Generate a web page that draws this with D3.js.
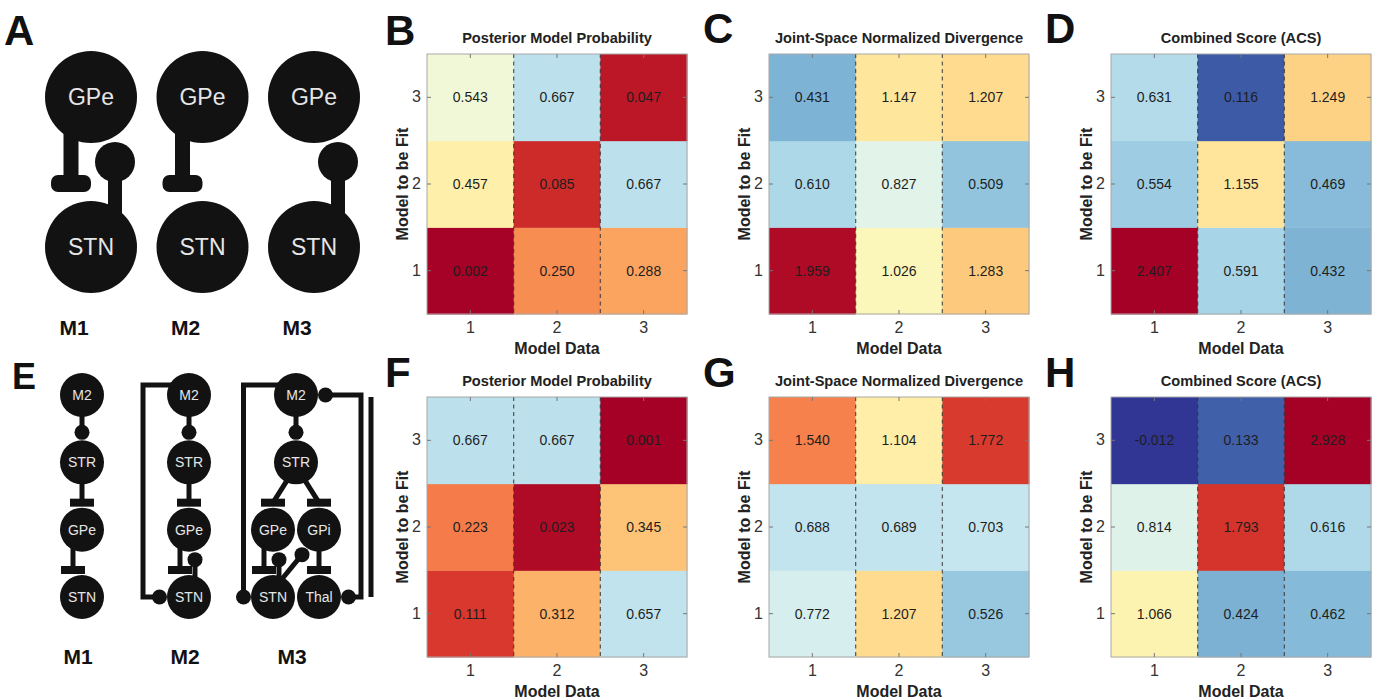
<!DOCTYPE html>
<html><head><meta charset="utf-8">
<script src="https://cdn.jsdelivr.net/npm/d3@7"></script>
<style>
body{margin:0;background:#fff;}
svg{display:block;font-family:"Liberation Sans",Arial,Helvetica,sans-serif;}
</style></head><body>
<svg id="fig" width="1378" height="700"></svg>
<script>
// ---------------- DATA ----------------
const modelIds = ["1","2","3"];
const tickLabels = ["1","2","3"];
const titleProb = "Posterior Model Probability";
const titleDiv = "Joint-Space Normalized Divergence";
const titleAcs = "Combined Score (ACS)";
const xAxisTitle = "Model Data";
const yAxisTitle = "Model to be Fit";
// rows = Model to be Fit 1..3, columns = Model Data 1..3
const probGPeSTN = [[0.002,0.250,0.288],[0.457,0.085,0.667],[0.543,0.667,0.047]];
const divGPeSTN  = [[1.959,1.026,1.283],[0.610,0.827,0.509],[0.431,1.147,1.207]];
const acsGPeSTN  = [[2.407,0.591,0.432],[0.554,1.155,0.469],[0.631,0.116,1.249]];
const probBG = [[0.111,0.312,0.657],[0.223,0.023,0.345],[0.667,0.667,0.001]];
const divBG  = [[0.772,1.207,0.526],[0.688,0.689,0.703],[1.540,1.104,1.772]];
const acsBG  = [[1.066,0.424,0.462],[0.814,1.793,0.616],[-0.012,0.133,2.928]];

// circuit diagrams
const circuitModels = ["M1","M2","M3"];
const gpeStnNodes = ["GPe","STN"];
const gpeStnEdges = [
  {model:"M1",from:"GPe",to:"STN",kind:"inh"},
  {model:"M1",from:"STN",to:"GPe",kind:"exc"},
  {model:"M2",from:"GPe",to:"STN",kind:"inh"},
  {model:"M3",from:"STN",to:"GPe",kind:"exc"}
];
const bgNodes = [
  {model:"M1",name:"M2",level:0,lane:0},{model:"M1",name:"STR",level:1,lane:0},
  {model:"M1",name:"GPe",level:2,lane:0},{model:"M1",name:"STN",level:3,lane:0},
  {model:"M2",name:"M2",level:0,lane:0},{model:"M2",name:"STR",level:1,lane:0},
  {model:"M2",name:"GPe",level:2,lane:0},{model:"M2",name:"STN",level:3,lane:0},
  {model:"M3",name:"M2",level:0,lane:0},{model:"M3",name:"STR",level:1,lane:0},
  {model:"M3",name:"GPe",level:2,lane:-1},{model:"M3",name:"GPi",level:2,lane:1},
  {model:"M3",name:"STN",level:3,lane:-1},{model:"M3",name:"Thal",level:3,lane:1}
];
const bgEdges = [
  {model:"M1",from:"M2",to:"STR",kind:"exc"},{model:"M1",from:"STR",to:"GPe",kind:"inh"},
  {model:"M1",from:"GPe",to:"STN",kind:"inh"},
  {model:"M2",from:"M2",to:"STR",kind:"exc"},{model:"M2",from:"STR",to:"GPe",kind:"inh"},
  {model:"M2",from:"GPe",to:"STN",kind:"inh"},{model:"M2",from:"STN",to:"GPe",kind:"exc"},
  {model:"M2",from:"M2",to:"STN",kind:"loop"},
  {model:"M3",from:"M2",to:"STR",kind:"exc"},{model:"M3",from:"STR",to:"GPe",kind:"inh"},
  {model:"M3",from:"STR",to:"GPi",kind:"inh"},{model:"M3",from:"GPe",to:"STN",kind:"inh"},
  {model:"M3",from:"GPi",to:"Thal",kind:"inh"},{model:"M3",from:"STN",to:"GPe",kind:"exc"},
  {model:"M3",from:"STN",to:"GPi",kind:"exc"},{model:"M3",from:"M2",to:"STN",kind:"loop"},
  {model:"M3",from:"Thal",to:"M2",kind:"loop"}
];

const panels = [
  {label:"B",title:titleProb,values:probGPeSTN,kind:"prob",col:0,row:0},
  {label:"C",title:titleDiv,values:divGPeSTN,kind:"div",col:1,row:0},
  {label:"D",title:titleAcs,values:acsGPeSTN,kind:"div",col:2,row:0},
  {label:"F",title:titleProb,values:probBG,kind:"prob",col:0,row:1},
  {label:"G",title:titleDiv,values:divBG,kind:"div",col:1,row:1},
  {label:"H",title:titleAcs,values:acsBG,kind:"div",col:2,row:1}
];

// ---------------- LAYOUT ----------------
const svg = d3.select("#fig");
const INK = "#121212";
const NODE_TXT = "#e6e6e6";
const gridLeft = [427, 769, 1111];
const gridTop = [54, 397];
const S = 260;

const probColor = d3.scaleSequential(d3.interpolateRdYlBu).domain([0,1]).clamp(true);
const divColor = d3.scaleSequential(d3.interpolateRdYlBu).domain([2,0]).clamp(true);

panels.forEach(p => {
  const g = svg.append("g").attr("transform", `translate(${gridLeft[p.col]},${gridTop[p.row]})`);
  const x = d3.scaleBand().domain(modelIds).range([0,S]);
  const y = d3.scaleBand().domain(modelIds.slice().reverse()).range([0,S]);
  const color = p.kind === "prob" ? probColor : divColor;
  const cells = [];
  p.values.forEach((row,i) => row.forEach((v,j) => cells.push({fit:modelIds[i], data:modelIds[j], v})));
  g.selectAll("rect.cell").data(cells).join("rect").attr("class","cell")
    .attr("x", d => x(d.data)).attr("y", d => y(d.fit))
    .attr("width", x.bandwidth()+0.5).attr("height", y.bandwidth()+0.5)
    .attr("fill", d => color(d.v));
  g.selectAll("text.val").data(cells).join("text").attr("class","val")
    .attr("x", d => x(d.data) + x.bandwidth()/2)
    .attr("y", d => y(d.fit) + y.bandwidth()/2)
    .attr("dy","0.36em").attr("text-anchor","middle")
    .attr("font-size",14).attr("fill","#1e1e1e")
    .text(d => d.v.toFixed(3));
  modelIds.slice(1).forEach(m => {
    g.append("line").attr("x1", x(m)).attr("x2", x(m)).attr("y1",0).attr("y2",S)
      .attr("stroke","#333").attr("stroke-width",1.2).attr("stroke-dasharray","4,3.5").attr("opacity",0.8);
  });
  g.append("rect").attr("width",S).attr("height",S).attr("fill","none").attr("stroke","#a8a8a8").attr("stroke-width",1);
  const fmt = d => tickLabels[modelIds.indexOf(d)];
  const axes = [
    g.append("g").attr("transform",`translate(0,${S})`).call(d3.axisBottom(x).tickSizeInner(-4).tickSizeOuter(0).tickPadding(8).tickFormat(fmt)),
    g.append("g").call(d3.axisTop(x).tickSizeInner(-4).tickSizeOuter(0).tickFormat("")),
    g.append("g").call(d3.axisLeft(y).tickSizeInner(-4).tickSizeOuter(0).tickPadding(6).tickFormat(fmt)),
    g.append("g").attr("transform",`translate(${S},0)`).call(d3.axisRight(y).tickSizeInner(-4).tickSizeOuter(0).tickFormat(""))
  ];
  axes.forEach(a => {
    a.attr("font-size",16).attr("font-family",'"Liberation Sans",Arial,sans-serif');
    a.select(".domain").remove();
    a.selectAll(".tick line").attr("stroke","#777");
    a.selectAll(".tick text").attr("fill","#333");
  });
  g.append("text").attr("x",S/2).attr("y",-11).attr("text-anchor","middle")
    .attr("font-size",14.6).attr("font-weight","bold").attr("fill","#222").text(p.title);
  g.append("text").attr("x",S/2).attr("y",S+40).attr("text-anchor","middle")
    .attr("font-size",16).attr("font-weight","bold").attr("fill","#222").text(xAxisTitle);
  g.append("text").attr("transform",`translate(-19,${S/2}) rotate(-90)`).attr("text-anchor","middle")
    .attr("font-size",16).attr("font-weight","bold").attr("fill","#222").text(yAxisTitle);
});

// ---------------- PANEL LETTERS ----------------
const letters = [
  {t:"A",x:4,y:45,s:42},{t:"B",x:385,y:45,s:42},{t:"C",x:703,y:43,s:42},{t:"D",x:1045,y:43,s:42},
  {t:"E",x:12,y:389,s:36},{t:"F",x:385,y:387,s:42},{t:"G",x:703,y:387,s:42},{t:"H",x:1045,y:387,s:42}
];
svg.selectAll("text.letter").data(letters).join("text").attr("class","letter")
  .attr("x",d=>d.x).attr("y",d=>d.y).attr("font-size",d=>d.s).attr("font-weight","bold").attr("fill","#111")
  .text(d=>d.t);

// ---------------- PANEL A ----------------
const gA = svg.append("g");
const aX = d3.scalePoint().domain(circuitModels).range([91, 314]);
const aY = d3.scalePoint().domain(gpeStnNodes).range([97, 247]);
const RA = 46;
gpeStnEdges.forEach(e => {
  const cx = aX(e.model), sy = aY(e.from), ty = aY(e.to);
  if (e.kind === "inh") {
    const sx = cx - 20;
    gA.append("rect").attr("x", sx-7.5).attr("y", sy+30).attr("width",15).attr("height", (ty-RA-22)-(sy+30)).attr("fill",INK);
    gA.append("rect").attr("x", sx-20).attr("y", ty-RA-26).attr("width",40).attr("height",17).attr("rx",7).attr("fill",INK);
  } else {
    const bx = cx + 24, by = ty + RA + 19;
    gA.append("rect").attr("x", bx-7).attr("y", by).attr("width",14).attr("height", (sy-RA+12)-by).attr("fill",INK);
    gA.append("circle").attr("cx",bx).attr("cy",by).attr("r",20).attr("fill",INK);
  }
});
circuitModels.forEach(m => {
  gpeStnNodes.forEach(n => {
    gA.append("circle").attr("cx",aX(m)).attr("cy",aY(n)).attr("r",RA).attr("fill",INK);
    gA.append("text").attr("x",aX(m)).attr("y",aY(n)+8).attr("text-anchor","middle")
      .attr("font-size",23).attr("fill",NODE_TXT).text(n);
  });
  gA.append("text").attr("x",aX(m)-17).attr("y",335).attr("text-anchor","middle")
    .attr("font-size",21).attr("font-weight","bold").attr("fill","#111").text(m);
});

// ---------------- PANEL E ----------------
const gE = svg.append("g");
const eX = d3.scalePoint().domain(circuitModels).range([82, 296]);
const laneX = d3.scaleLinear().domain([-1,1]).range([-23,23]);
const levelY = d3.scalePoint().domain([0,1,2,3]).range([395, 597]);
const R = 22, SW = 5, BR = 7.5;
function pos(model, name) {
  const n = bgNodes.find(d => d.model===model && d.name===name);
  return {x: eX(model)+laneX(n.lane), y: levelY(n.level), lane:n.lane, level:n.level, name:n.name};
}
function seg(x1,y1,x2,y2) {
  gE.append("line").attr("x1",x1).attr("y1",y1).attr("x2",x2).attr("y2",y2)
    .attr("stroke",INK).attr("stroke-width",SW);
}
function ball(x,y) { gE.append("circle").attr("cx",x).attr("cy",y).attr("r",BR).attr("fill",INK); }
function bar(x,y) { gE.append("rect").attr("x",x-12).attr("y",y-4).attr("width",24).attr("height",8).attr("fill",INK); }
bgEdges.forEach(e => {
  const s = pos(e.model, e.from), t = pos(e.model, e.to);
  if (e.kind === "exc" && t.level > s.level) {
    seg(s.x, s.y, t.x, t.y - R - 8); ball(t.x, t.y - R - 8);
  } else if (e.kind === "inh") {
    const by = t.y - R - 5;
    if (Math.abs(s.x - t.x) > 1) {
      const sg = Math.sign(t.x - s.x);
      seg(s.x + sg*7, s.y + 15, t.x, by); bar(t.x, by);
    } else {
      const dx = (s.level === 2 && s.lane <= 0) ? -9 : 0;
      seg(s.x+dx, s.y, s.x+dx, by); bar(s.x+dx, by);
    }
  } else if (e.kind === "exc") {
    if (Math.abs(s.x - t.x) > 1) {
      const bx = t.x - 17, by = t.y + R + 3;
      seg(s.x + 9, s.y - R + 4, bx, by); ball(bx, by);
    } else {
      const bx = t.x + 6, by = t.y + R + 8;
      seg(bx, by, bx, s.y - R + 4); ball(bx, by);
    }
  } else if (e.kind === "loop") {
    const right = (s.name === "M2" ? t.lane : s.lane) > 0;
    if (!right) {
      const lx = Math.min(s.x - 46, t.x - R - BR);
      gE.append("path").attr("d", `M${s.x},${s.y-10}H${lx}V${t.y}H${t.x-R-BR}`)
        .attr("fill","none").attr("stroke",INK).attr("stroke-width",SW);
      ball(t.x - R - BR, t.y);
    } else {
      const lx = s.x + 42;
      gE.append("path").attr("d", `M${s.x+R+BR},${s.y}H${lx}V${t.y}H${t.x+R+BR}`)
        .attr("fill","none").attr("stroke",INK).attr("stroke-width",SW);
      ball(s.x + R + BR, s.y); ball(t.x + R + BR, t.y);
      seg(lx + 10, t.y + 2, lx + 10, s.y);
    }
  }
});
bgNodes.forEach(n => {
  const p = pos(n.model, n.name);
  gE.append("circle").attr("cx",p.x).attr("cy",p.y).attr("r",R).attr("fill",INK);
  gE.append("text").attr("x",p.x).attr("y",p.y+5).attr("text-anchor","middle")
    .attr("font-size",14).attr("fill",NODE_TXT).text(n.name);
});
circuitModels.forEach(m => {
  gE.append("text").attr("x",eX(m)-4).attr("y",664).attr("text-anchor","middle")
    .attr("font-size",21).attr("font-weight","bold").attr("fill","#111").text(m);
});
</script>
</body></html>
